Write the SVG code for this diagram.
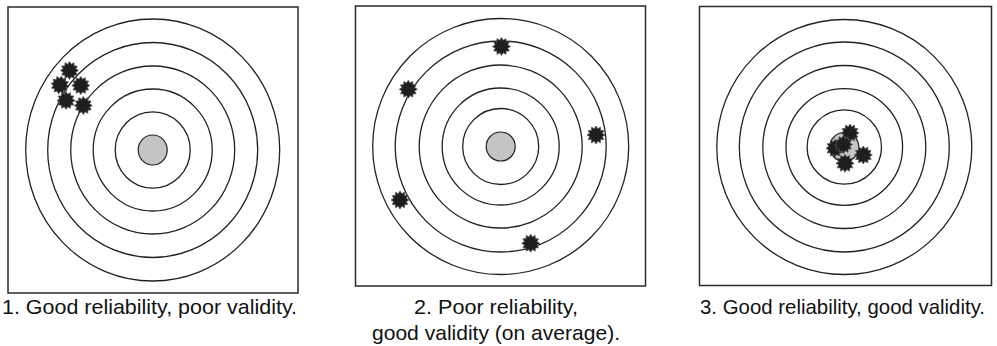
<svg xmlns="http://www.w3.org/2000/svg" xmlns:xlink="http://www.w3.org/1999/xlink" width="997" height="346" viewBox="0 0 997 346">
<style>
.box{fill:#fff;stroke:#2a2a2a;stroke-width:1.5}
.ring{fill:none;stroke:#222;stroke-width:1.3}
.dot{fill:#c4c4c4;stroke:#222;stroke-width:1.2}
.hole{fill:#1e1e1e;stroke:#555;stroke-width:0.8}
.lbl{font-family:"Liberation Sans",Arial,sans-serif;font-size:21px;fill:#111}
</style>
<defs>
<polygon id="splat" points="9,0 6.28,1.68 7.79,4.5 4.6,4.6 4.5,7.79 1.68,6.28 0,9 -1.68,6.28 -4.5,7.79 -4.6,4.6 -7.79,4.5 -6.28,1.68 -9,0 -6.28,-1.68 -7.79,-4.5 -4.6,-4.6 -4.5,-7.79 -1.68,-6.28 0,-9 1.68,-6.28 4.5,-7.79 4.6,-4.6 7.79,-4.5 6.28,-1.68"/>
</defs>
<rect width="997" height="346" fill="#fff"/>

<g id="target1">
<rect class="box" x="8" y="7" width="290" height="286"/>
<ellipse class="ring" cx="152.7" cy="150" rx="127" ry="131"/>
<ellipse class="ring" cx="152.7" cy="150" rx="105" ry="107.5"/>
<ellipse class="ring" cx="152.7" cy="150" rx="82" ry="84"/>
<ellipse class="ring" cx="152.7" cy="150" rx="59.5" ry="61"/>
<ellipse class="ring" cx="152.7" cy="150" rx="37.5" ry="38.2"/>
<ellipse class="dot" cx="152.7" cy="150" rx="14.5" ry="15"/>
<use xlink:href="#splat" class="hole" x="69.5" y="70.5"/>
<use xlink:href="#splat" class="hole" x="60" y="85" transform="rotate(10 60 85)"/>
<use xlink:href="#splat" class="hole" x="80.8" y="85.5"/>
<use xlink:href="#splat" class="hole" x="66" y="100.5"/>
<use xlink:href="#splat" class="hole" x="83.3" y="105.5"/>
<text class="lbl" x="2" y="314" textLength="295" lengthAdjust="spacingAndGlyphs">1. Good reliability, poor validity.</text>
</g>

<g id="target2">
<rect class="box" x="355.5" y="6" width="290" height="280"/>
<circle class="ring" cx="500.7" cy="146.5" r="128"/>
<circle class="ring" cx="500.7" cy="146.5" r="105.5"/>
<circle class="ring" cx="500.7" cy="146.5" r="81.5"/>
<circle class="ring" cx="500.7" cy="146.5" r="58.5"/>
<circle class="ring" cx="500.7" cy="146.5" r="38"/>
<circle class="dot" cx="500.7" cy="146.5" r="14.5"/>
<use xlink:href="#splat" class="hole" x="501.5" y="46.5"/>
<use xlink:href="#splat" class="hole" x="408.3" y="89.3"/>
<use xlink:href="#splat" class="hole" x="596" y="135"/>
<use xlink:href="#splat" class="hole" x="400" y="200"/>
<use xlink:href="#splat" class="hole" x="530.7" y="243.3"/>
<text class="lbl" x="414" y="314" textLength="164" lengthAdjust="spacingAndGlyphs">2. Poor reliability,</text>
<text class="lbl" x="372" y="340" textLength="248" lengthAdjust="spacingAndGlyphs">good validity (on average).</text>
</g>

<g id="target3">
<rect class="box" x="699.5" y="6.5" width="292" height="279"/>
<circle class="ring" cx="844.3" cy="147" r="127.5"/>
<circle class="ring" cx="844.3" cy="147" r="105"/>
<circle class="ring" cx="844.3" cy="147" r="81.5"/>
<circle class="ring" cx="844.3" cy="147" r="58.3"/>
<circle class="ring" cx="844.3" cy="147" r="37.2"/>
<circle class="dot" cx="844.3" cy="147" r="14.5"/>
<use xlink:href="#splat" class="hole" x="850" y="133"/>
<use xlink:href="#splat" class="hole" x="835" y="148.3"/>
<use xlink:href="#splat" class="hole" x="843.5" y="144.5"/>
<use xlink:href="#splat" class="hole" x="863.3" y="155"/>
<use xlink:href="#splat" class="hole" x="845" y="163.3"/>
<text class="lbl" x="700" y="314" textLength="285" lengthAdjust="spacingAndGlyphs">3. Good reliability, good validity.</text>
</g>
</svg>
